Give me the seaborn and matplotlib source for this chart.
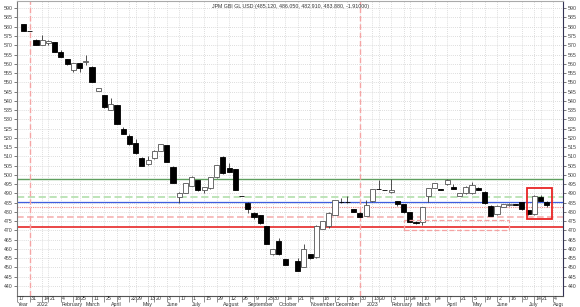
import numpy as np
import pandas as pd
import matplotlib
matplotlib.use("Agg")
import matplotlib.pyplot as plt
import seaborn as sns
from matplotlib.transforms import Bbox, TransformedBbox, blended_transform_factory
from matplotlib.patches import Rectangle

nan = np.nan

title = "JPM GBI GL USD (485.120, 486.050, 482.910, 483.880, -1.91000)"

# weekly slots (slot 43 has no visible candle)
week_index = list(range(85))

opens = [581.3, 577.7, 573.1, 570.1, 571.4, 571.6, 566.2, 562.6, 556.6, 560.2,
         561.0, 558.4, 545.5, 543.1, 535.0, 537.7, 524.6, 521.0, 517.4, 509.3,
         505.7, 509.0, 513.1, 516.1, 504.4, 488.2, 490.4, 494.0, 497.2, 491.8,
         492.8, 498.7, 509.8, 503.6, 503.0, 488.6, 485.0, 479.6, 478.3, 472.4,
         457.1, 464.3, 454.6, nan, 453.5, 450.4, 457.3, 455.5, 470.8, 472.5,
         478.3, 485.2, 485.2, 481.4, 479.6, 478.0, 486.1, 492.4, 491.8, 490.6,
         485.9, 484.1, 479.8, 474.7, 474.4, 488.8, 493.1, 492.2, 494.9, 493.6,
         488.8, 490.0, 490.0, 493.1, 490.9, 483.4, 478.7, 482.8, 483.6, 484.1,
         485.2, 481.0, 478.7, 488.2, 485.12]
closes = [577.7, 577.6, 570.1, 573.1, 572.5, 566.5, 563.8, 559.7, 560.2, 557.5,
          561.3, 550.3, 546.7, 536.5, 538.3, 527.5, 522.1, 516.5, 511.6, 504.8,
          508.0, 513.1, 516.7, 507.1, 495.8, 490.4, 495.4, 499.0, 491.6, 493.3,
          498.7, 505.3, 500.8, 501.7, 491.8, 488.5, 481.4, 477.1, 473.8, 462.7,
          459.8, 457.1, 451.3, nan, 448.3, 459.8, 455.0, 472.6, 475.1, 479.5,
          486.4, 485.1, 485.1, 480.1, 477.4, 483.7, 492.4, 492.3, 491.7, 491.8,
          484.1, 479.8, 474.7, 473.9, 482.5, 492.8, 495.4, 492.1, 497.2, 492.4,
          490.0, 493.6, 494.5, 491.8, 484.7, 478.0, 483.4, 484.1, 484.3, 484.0,
          481.4, 478.7, 488.8, 485.9, 483.88]
highs = [581.5, 577.8, 573.3, 575.5, 572.8, 571.8, 567.5, 562.8, 560.4, 560.4,
         564.7, 558.6, 546.9, 543.3, 541.3, 537.9, 525.8, 522.3, 519.3, 509.5,
         510.0, 513.3, 516.9, 516.3, 504.6, 490.6, 495.6, 499.2, 497.4, 493.5,
         498.9, 505.5, 510.0, 506.6, 503.2, 488.7, 485.2, 479.8, 478.5, 472.6,
         460.0, 466.1, 454.8, nan, 455.0, 462.5, 457.5, 472.8, 475.3, 479.7,
         486.6, 487.3, 488.8, 481.6, 479.8, 486.4, 492.6, 497.2, 492.0, 497.8,
         486.1, 484.3, 480.0, 474.9, 482.7, 493.0, 495.6, 492.4, 497.8, 495.2,
         490.2, 493.8, 496.3, 493.3, 491.1, 483.6, 483.6, 484.3, 484.9, 484.3,
         485.4, 481.2, 489.0, 489.3, 486.05]
lows = [577.5, 577.5, 570.0, 570.0, 570.3, 566.3, 563.6, 559.5, 555.8, 555.6,
        559.3, 550.1, 545.3, 536.3, 534.8, 527.3, 521.9, 516.3, 511.4, 504.6,
        505.5, 508.8, 512.9, 506.9, 495.6, 484.7, 490.2, 493.8, 491.4, 490.0,
        492.6, 498.5, 500.6, 501.5, 491.6, 488.4, 479.4, 476.0, 473.6, 462.5,
        456.9, 456.9, 451.1, nan, 448.1, 450.2, 454.8, 455.3, 470.6, 471.5,
        478.1, 485.0, 485.0, 479.9, 477.2, 477.8, 485.5, 492.2, 491.6, 490.4,
        483.0, 479.6, 474.5, 473.5, 472.9, 485.5, 492.9, 492.0, 494.7, 492.2,
        488.6, 489.8, 489.8, 491.6, 484.5, 477.8, 478.5, 482.6, 483.4, 483.9,
        481.2, 478.5, 478.5, 485.7, 482.91]

# x-axis tick rows
day_tick_idx = [-1, 1, 3, 4, 6, 8, 9, 11, 13, 15, 17, 18, 20, 21, 23, 25, 27, 29, 31,
                33, 35, 37, 39, 40, 42, 44, 46, 48, 50, 52, 54, 56, 57, 59, 61, 62,
                64, 66, 68, 70, 72, 74, 76, 78, 80, 82, 83, 85]
day_tick_labels = ["17", "31", "14", "21", "4", "18", "25", "11", "25", "8", "22", "29",
                   "13", "20", "3", "17", "1", "15", "29", "12", "26", "9", "23", "30",
                   "14", "21", "4", "18", "2", "16", "30", "13", "20", "3", "17", "24",
                   "10", "24", "7", "21", "5", "19", "2", "16", "30", "14", "21", "4"]
month_idx = [-1, 2, 6, 10, 14, 19, 23, 27, 32, 36, 41, 46, 50, 55, 59, 63, 68, 72, 76, 81, 85]
month_labels = ["Year", "2022", "February", "March", "April", "May", "June", "July",
                "August", "September", "October", "November", "December", "2023",
                "February", "March", "April", "May", "June", "July", "August"]
year_end_idx = [1, 54]

y_ticks = list(range(440, 591, 5))

level_values = [497.9, 488.2, 485.12, 482.91, 477.4, 472.0]
level_colors = ["#5f9f5f", "#b9e2b3", "#3f5fe0", "#f28c8c", "#f5b3b3", "#e83838"]
level_styles = ["-", (0, (4, 2)), "-", (0, (1, 1)), (0, (4, 2)), "-"]
level_widths = [1.0, 1.3, 0.9, 0.8, 1.2, 1.3]

# highlight boxes: (x0, x1, y0, y1)
red_box = (80.9, 84.9, 476.1, 493.1)
pink_box = (61.0, 77.9, 470.0, 475.6)

sns.set_theme(style="white")
plt.rcParams["font.family"] = ["Liberation Sans", "DejaVu Sans"]

FS = 3.8

fig = plt.figure(figsize=(5.8, 3.07), dpi=100)
ax = fig.add_axes([0.0298, 0.0368, 0.9409, 0.9599])

df = pd.DataFrame(dict(idx=week_index, open=opens, high=highs, low=lows, close=closes)).dropna()
df["up"] = df["close"] >= df["open"]

ax.set_xlim(-0.48, 86.6)
ax.set_ylim(434.76, 593.9)

# grid
ax.set_xticks(day_tick_idx)
ax.set_xticklabels([])
ax.set_yticks(y_ticks)
ax.grid(True, which="major", axis="both", color="#d2d2d2", linestyle=(0, (1, 1.5)), linewidth=0.6)
ax.set_axisbelow(True)

# level lines
for v, c, s, w in zip(level_values, level_colors, level_styles, level_widths):
    ax.axhline(v, color=c, linestyle=s, linewidth=w, zorder=1)

# year separators
for yi in year_end_idx:
    ax.axvline(yi + 0.08, color="#f5a5a5", linestyle=(0, (4, 2)), linewidth=1.0, zorder=1)

# wicks
ax.vlines(df["idx"], df["low"], df["high"], color="#333333", linewidth=0.6, zorder=2)
# bodies
body_bottom = np.minimum(df["open"], df["close"])
body_height = np.abs(df["close"] - df["open"])
face = np.where(df["up"], "white", "black")
edge = np.where(df["up"], "#555555", "black")
ax.bar(df["idx"], body_height, bottom=body_bottom, width=0.82, color=face,
       edgecolor=edge, linewidth=0.6, zorder=3)

# boxes
for (x0, x1, y0, y1), col, ls, lw in [(red_box, "#e82424", "-", 1.3),
                                      (pink_box, "#f4a3a3", (0, (4, 2)), 0.9)]:
    ax.add_patch(Rectangle((x0, y0), x1 - x0, y1 - y0, fill=False, edgecolor=col,
                           linestyle=ls, linewidth=lw, zorder=4))

# title
ax.text(0.5, 0.99, title, transform=ax.transAxes, ha="center", va="top",
        fontsize=FS, color="#333333")

# axes styling
for side, col in [("left", "#777777"), ("right", "#333355"), ("top", "#aaaaaa"), ("bottom", "#555555")]:
    ax.spines[side].set_visible(True)
    ax.spines[side].set_color(col)
    ax.spines[side].set_linewidth(0.8)
ax.tick_params(axis="y", left=True, right=True, labelleft=True, labelright=True,
               length=2, width=0.5, pad=1.5, labelsize=FS, colors="#444444")
ax.tick_params(axis="x", bottom=True, length=4.5, width=0.5, color="#666666", direction="out")

# manual x labels clipped to the plot's horizontal extent
pos = ax.get_position()
clip = TransformedBbox(Bbox([[pos.x0, 0], [pos.x1, 1]]), fig.transFigure)
trans = blended_transform_factory(ax.transData, ax.transAxes)
for i, lab in zip(day_tick_idx, day_tick_labels):
    t = ax.text(i + 0.2, -0.009, lab, transform=trans, ha="left", va="center",
                fontsize=FS, color="#333333", clip_on=True)
    t.set_clip_box(clip)
for i, lab in zip(month_idx, month_labels):
    t = ax.text(i + 0.05, -0.029, lab, transform=trans, ha="left", va="center",
                fontsize=FS, color="#333333", clip_on=True)
    t.set_clip_box(clip)

fig.savefig("out.png", dpi=100)
